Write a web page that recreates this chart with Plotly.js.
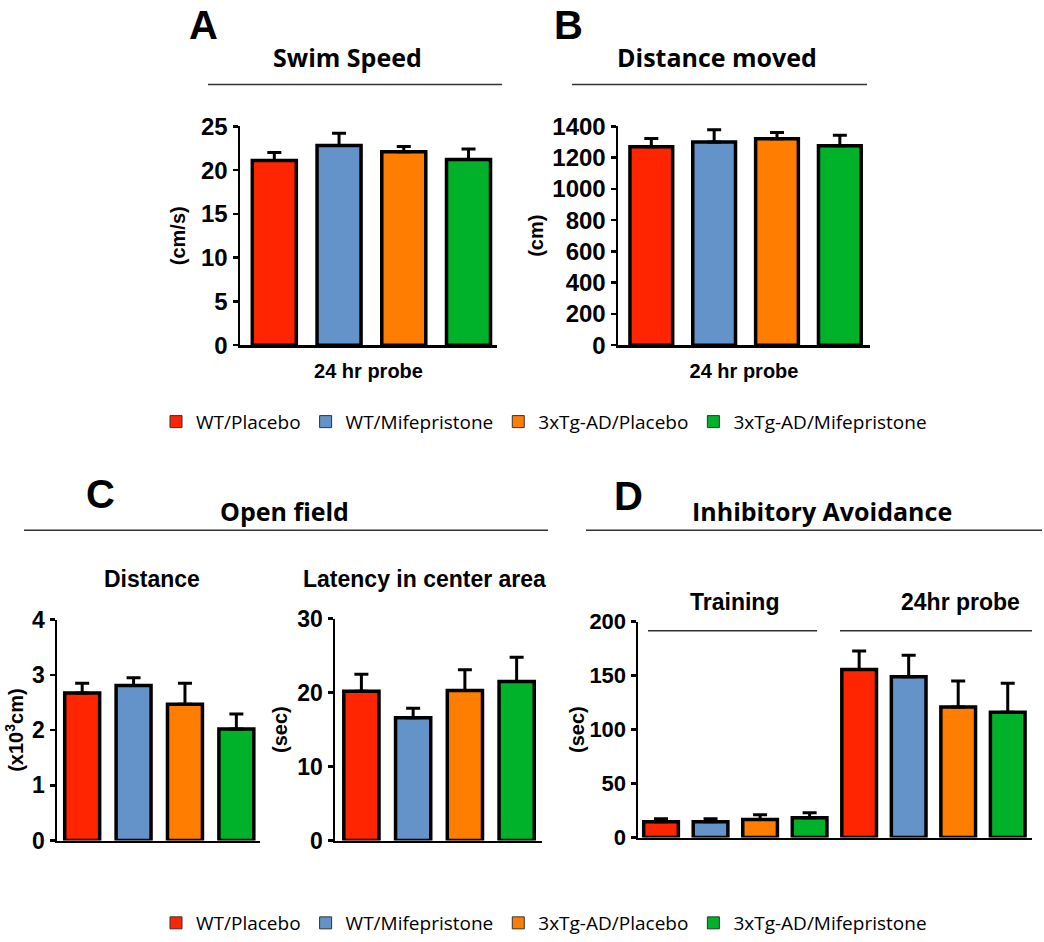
<!DOCTYPE html>
<html>
<head>
<meta charset="utf-8">
<script src="https://cdn.plot.ly/plotly-3.0.1.min.js"></script>
<style>html,body{margin:0;padding:0;background:#fff;}#chart{width:1044px;height:942px;}</style>
</head>
<body>
<div id="chart"></div>
<script>
// ---- data ----
const groups = ['WT/Placebo', 'WT/Mifepristone', '3xTg-AD/Placebo', '3xTg-AD/Mifepristone'];
const phases = ['Training', '24hr probe'];
const swimSpeed = [21.1, 22.8, 22.1, 21.2];
const swimSpeedSem = [0.9, 1.4, 0.6, 1.2];
const distanceMoved = [1270, 1300, 1320, 1275];
const distanceMovedSem = [52, 78, 40, 68];
const ofDistance = [2.67, 2.81, 2.47, 2.02];
const ofDistanceSem = [0.18, 0.14, 0.38, 0.27];
const ofLatency = [20.2, 16.6, 20.3, 21.5];
const ofLatencySem = [2.3, 1.3, 2.8, 3.3];
const iaTraining = [14.7, 14.7, 16.6, 18.4];
const iaTrainingSem = [2.8, 2.8, 4.4, 4.6];
const iaProbe = [155.8, 149, 121, 116];
const iaProbeSem = [17, 20, 24, 27];

// ---- style ----
const colors = ['#FF2500', '#6393C9', '#FF7D00', '#00B12A'];
const W = 1044, H = 942;
const px = x => x / W;
const py = y => 1 - y / H;
const AX = 'Liberation Sans, Arial, sans-serif';
const TF = 'Open Sans, sans-serif';

const traces = [];
function addPanel(vals, sems, xa, ya) {
  groups.forEach((g, i) => {
    traces.push({
      type: 'bar', x: [g], y: [vals[i]], xaxis: xa, yaxis: ya,
      width: 0.68, showlegend: false, cliponaxis: false,
      marker: {color: colors[i], line: {color: '#000', width: 3.5}},
      error_y: {type: 'data', symmetric: false, array: [sems[i]], arrayminus: [0],
                color: '#000', thickness: 3, width: 7},
      hovertemplate: g + ': %{y}<extra></extra>'
    });
  });
}
addPanel(swimSpeed, swimSpeedSem, 'x', 'y');
addPanel(distanceMoved, distanceMovedSem, 'x2', 'y2');
addPanel(ofDistance, ofDistanceSem, 'x3', 'y3');
addPanel(ofLatency, ofLatencySem, 'x4', 'y4');

const catD = phases.flatMap(p => groups.map(g => p + ' · ' + g));
groups.forEach((g, i) => {
  traces.push({
    type: 'bar', x: phases.map(p => p + ' · ' + g), y: [iaTraining[i], iaProbe[i]],
    xaxis: 'x5', yaxis: 'y5', width: 0.7, showlegend: false, cliponaxis: false,
    marker: {color: colors[i], line: {color: '#000', width: 3.5}},
    error_y: {type: 'data', symmetric: false, array: [iaTrainingSem[i], iaProbeSem[i]], arrayminus: [0, 0],
              color: '#000', thickness: 3, width: 7},
    hovertemplate: g + ': %{y}<extra></extra>'
  });
});

// legend entries (two legends)
['legend', 'legend2'].forEach(lg => {
  groups.forEach((g, i) => {
    traces.push({type: 'bar', x: [null], y: [null], xaxis: 'x', yaxis: 'y', name: g, legend: lg,
      marker: {color: colors[i], line: {color: '#333', width: 1}}, hoverinfo: 'skip'});
  });
});

function yax(domain, range, dtick, anchor, title, standoff, fs) {
  return {domain: domain, range: range, dtick: dtick, tick0: 0, anchor: anchor, showline: true, linecolor: '#000', linewidth: 2.5,
    ticks: 'outside', ticklen: 5, tickwidth: 2.5, tickcolor: '#000', showgrid: false, zeroline: false,
    tickfont: {family: AX, size: fs, color: '#000', weight: 'bold'}, automargin: false, fixedrange: true,
    title: {text: title, standoff: standoff, font: {family: AX, size: 20, color: '#000', weight: 'bold'}}};
}
function xax(domain, range, cats, anchor, title) {
  const a = {domain: domain, range: range, type: 'category', categoryorder: 'array', categoryarray: cats,
    anchor: anchor, showline: true, linecolor: '#000', linewidth: 2.5, ticks: '', showticklabels: false,
    showgrid: false, zeroline: false, automargin: false, fixedrange: true};
  if (title) a.title = {text: title, standoff: 18, font: {family: AX, size: 20, color: '#000', weight: 'bold'}};
  return a;
}

const layout = {
  width: W, height: H, margin: {l: 0, r: 0, t: 0, b: 0},
  paper_bgcolor: '#fff', plot_bgcolor: '#fff', barmode: 'overlay', bargap: 0,
  font: {family: AX, color: '#000'},
  xaxis: xax([px(240), px(497)], [-0.53, 3.44], groups, 'y', '24 hr probe'),
  yaxis: yax([py(347), py(127)], [0, 25], 5, 'x', '(cm/s)', 10, 24),
  xaxis2: xax([px(618), px(870)], [-0.53, 3.48], groups, 'y2', '24 hr probe'),
  yaxis2: yax([py(347), py(127)], [0, 1400], 200, 'x2', '(cm)', 4, 24),
  xaxis3: xax([px(57), px(260)], [-0.49, 3.46], groups, 'y3'),
  yaxis3: yax([py(845), py(623)], [0, 4], 1, 'x3', '(x10<sup>3</sup>cm)', 3, 23),
  xaxis4: xax([px(335), px(542)], [-0.51, 3.49], groups, 'y4'),
  yaxis4: yax([py(845), py(622)], [0, 30], 10, 'x4', '(sec)', 5, 23),
  xaxis5: xax([px(638), px(1032)], [-0.465, 7.49], catD, 'y5'),
  yaxis5: yax([py(842), py(625)], [0, 200], 50, 'x5', '(sec)', 0, 22),
  legend: {orientation: 'h', x: px(156), y: py(424), xanchor: 'left', yanchor: 'middle',
    font: {family: TF, size: 19, color: '#000'}, bgcolor: 'rgba(0,0,0,0)', borderwidth: 0},
  legend2: {orientation: 'h', x: px(156), y: py(928), xanchor: 'left', yanchor: 'middle',
    font: {family: TF, size: 19, color: '#000'}, bgcolor: 'rgba(0,0,0,0)', borderwidth: 0},
  shapes: [
    {type: 'line', xref: 'paper', yref: 'paper', x0: px(208), x1: px(502), y0: py(85), y1: py(85), line: {color: '#333', width: 1.5}},
    {type: 'line', xref: 'paper', yref: 'paper', x0: px(572), x1: px(867), y0: py(85), y1: py(85), line: {color: '#333', width: 1.5}},
    {type: 'line', xref: 'paper', yref: 'paper', x0: px(24), x1: px(548), y0: py(533), y1: py(533), line: {color: '#333', width: 1.5}},
    {type: 'line', xref: 'paper', yref: 'paper', x0: px(586), x1: px(1042), y0: py(533), y1: py(533), line: {color: '#333', width: 1.5}},
    {type: 'line', xref: 'paper', yref: 'paper', x0: px(648), x1: px(817), y0: py(634), y1: py(634), line: {color: '#333', width: 1.5}},
    {type: 'line', xref: 'paper', yref: 'paper', x0: px(840), x1: px(1032), y0: py(634), y1: py(634), line: {color: '#333', width: 1.5}}
  ],
  annotations: [
    ['A', 203, 25, AX, 40], ['B', 568, 25, AX, 40], ['C', 100, 497, AX, 40], ['D', 628, 499, AX, 40],
    ['Swim Speed', 347, 57, TF, 25], ['Distance moved', 717, 57, TF, 25],
    ['Open field', 284, 514, TF, 25], ['Inhibitory Avoidance', 822, 514, TF, 25],
    ['Distance', 152, 582, AX, 23], ['Latency in center area', 424, 582, AX, 23],
    ['Training', 735, 605, AX, 23], ['24hr probe', 960, 605, AX, 23]
  ].map(a => ({text: a[0], x: px(a[1]), y: py(a[2]), xref: 'paper', yref: 'paper', xanchor: 'center', yanchor: 'middle',
    showarrow: false, font: {family: a[3], size: a[4], color: '#000', weight: 'bold'}}))
};

Plotly.newPlot('chart', traces, layout, {displayModeBar: false, staticPlot: true});
</script>
</body>
</html>
